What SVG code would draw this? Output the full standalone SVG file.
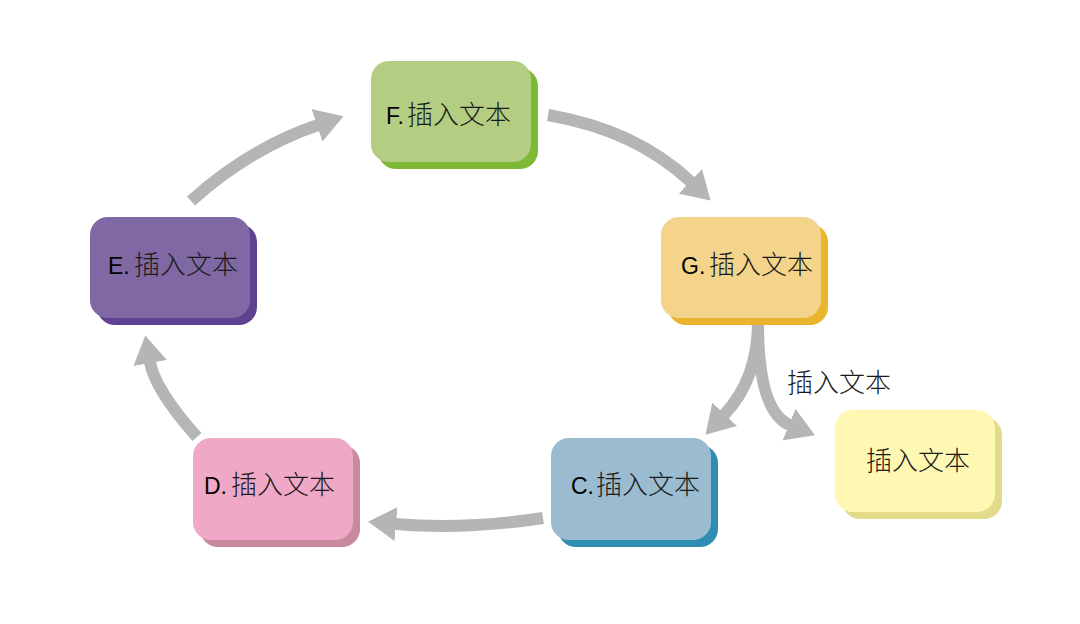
<svg xmlns="http://www.w3.org/2000/svg" width="1080" height="624" viewBox="0 0 1080 624">
<style>
.conn{fill:none;stroke:#B4B5B4;stroke-width:12;stroke-linecap:butt;marker-end:url(#ah)}
.lat{font-family:"Liberation Sans",Arial,sans-serif;font-size:23px;fill:#000}
.cjk{font-family:"Noto Sans CJK SC","Noto Sans CJK JP",sans-serif;font-size:26px;font-weight:300;fill:#1a1a1a}
</style>
<defs>
<marker id="ah" markerUnits="userSpaceOnUse" viewBox="0 0 30 34" markerWidth="30" markerHeight="34" refX="1" refY="17" orient="auto">
<path d="M0,0 L28,17 L0,34 Z" fill="#B4B5B4"/>
</marker>
</defs>
<rect width="1080" height="624" fill="#fff"/>
<g id="connectors">
<path class="conn" d="M191,201 Q250,148 318,125"/>
<path class="conn" d="M548,115 Q636,130 691,182"/>
<path class="conn" d="M758,322 Q758,379 724,415"/>
<path class="conn" d="M758,322 Q758,412 790,425"/>
<path class="conn" d="M543,518 Q465,530 395,524"/>
<path class="conn" d="M197,437 Q155,390 150,362"/>
</g>
<g id="node-F">
<rect x="378" y="68" width="160" height="101" rx="18" fill="#7DB934"/>
<rect x="371" y="61" width="160" height="101" rx="18" fill="#B3CE83"/>
<text y="124"><tspan class="lat" x="386">F.</tspan><tspan class="cjk" x="407">插入文本</tspan></text>
</g>
<g id="node-G">
<rect x="668" y="224" width="160" height="101" rx="18" fill="#EAB52D"/>
<rect x="661" y="217" width="160" height="101" rx="18" fill="#F3D48A"/>
<text y="274"><tspan class="lat" x="681">G.</tspan><tspan class="cjk" x="709">插入文本</tspan></text>
</g>
<g id="node-H">
<rect x="842" y="417" width="160" height="102" rx="18" fill="#E1DB8A"/>
<rect x="835" y="410" width="160" height="102" rx="18" fill="#FFF8B3"/>
<text class="cjk" x="866" y="470">插入文本</text>
</g>
<g id="node-C">
<rect x="558" y="445" width="160" height="102" rx="18" fill="#2F8DB1"/>
<rect x="551" y="438" width="160" height="102" rx="18" fill="#9BBBD0"/>
<text y="494"><tspan class="lat" x="571">C.</tspan><tspan class="cjk" x="596">插入文本</tspan></text>
</g>
<g id="node-D">
<rect x="200" y="445" width="160" height="102" rx="18" fill="#C9899F"/>
<rect x="193" y="438" width="160" height="102" rx="18" fill="#F0A8C7"/>
<text y="494"><tspan class="lat" x="204">D.</tspan><tspan class="cjk" x="231">插入文本</tspan></text>
</g>
<g id="node-E">
<rect x="97" y="224" width="160" height="101" rx="18" fill="#5E4190"/>
<rect x="90" y="217" width="160" height="101" rx="18" fill="#8068A4"/>
<text y="274"><tspan class="lat" x="108">E.</tspan><tspan class="cjk" x="134">插入文本</tspan></text>
</g>
<g id="label">
<text class="cjk" x="787" y="392">插入文本</text>
</g>
</svg>
